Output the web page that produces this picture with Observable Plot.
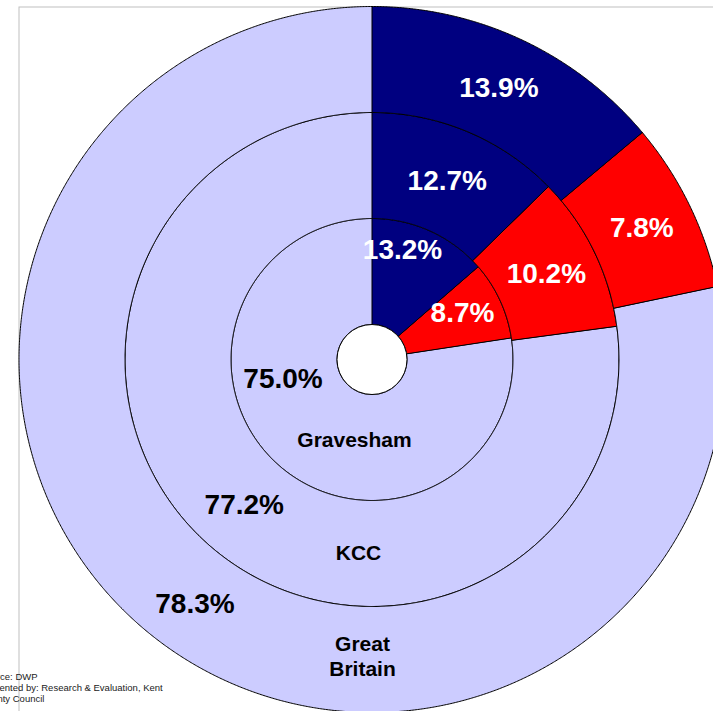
<!DOCTYPE html>
<html><head><meta charset="utf-8">
<script src="https://cdn.jsdelivr.net/npm/d3@7"></script>
<script src="https://cdn.jsdelivr.net/npm/@observablehq/plot@0.6"></script>
<style>body{margin:0;background:#fff;} #chart{width:713px;height:711px;overflow:hidden;}</style>
</head><body><div id="chart"></div>
<script>
// ---- data ----
const areas = ["Gravesham", "KCC", "Great Britain"];
const categories = ["Out-of-work benefits", "Other benefits", "Not claiming"];
const graveshamValues = [13.2, 8.7, 75.0];
const kccValues = [12.7, 10.2, 77.2];
const gbValues = [13.9, 7.8, 78.3];
const areaLabels = ["Gravesham", "KCC", "Great\nBritain"];
const sourceLines = ["Source: DWP", "Presented by: Research & Evaluation, Kent", "County Council"];

// ---- styles / layout ----
const sliceColors = ["#000080", "#ff0000", "#ccccff"];
const W = 713, H = 711, CX = 371.5, CY = 359;
const HOLE = 35, RING = 106;
// label nudges in pixels (right, down)
const pctNudge = [
  [[-6, -29], [10.6, -9.1], [-31.6, -47.2]],
  [[0, 0], [0, 0], [0, 0]],
  [[0, 0], [0, 0], [12, 12]]
];
const nameNudge = [[-17.5, -8], [-13.5, -1.5], [-9.5, -3.7]];

const valuesByArea = [graveshamValues, kccValues, gbValues];
const polys = [], pctLabels = [], nameLabels = [];
const step = Math.PI / 720;
valuesByArea.forEach((vals, i) => {
  const arcs = d3.pie().sort(null).startAngle(0).endAngle(2 * Math.PI)(vals);
  const r0 = HOLE + i * RING, r1 = HOLE + (i + 1) * RING, rm = (r0 + r1) / 2;
  arcs.forEach((a, j) => {
    const id = areas[i] + "|" + categories[j];
    const n = Math.max(2, Math.ceil((a.endAngle - a.startAngle) / step));
    for (let k = 0; k <= n; k++) {
      const t = a.startAngle + (a.endAngle - a.startAngle) * k / n;
      polys.push({id, cat: categories[j], x: r1 * Math.sin(t), y: r1 * Math.cos(t)});
    }
    for (let k = n; k >= 0; k--) {
      const t = a.startAngle + (a.endAngle - a.startAngle) * k / n;
      polys.push({id, cat: categories[j], x: r0 * Math.sin(t), y: r0 * Math.cos(t)});
    }
    const m = (a.startAngle + a.endAngle) / 2;
    const [nx, ny] = pctNudge[i][j];
    pctLabels.push({text: vals[j].toFixed(1) + "%", cat: j, x: rm * Math.sin(m) + nx, y: rm * Math.cos(m) - ny});
  });
  nameLabels.push({text: areaLabels[i], x: rm * Math.sin(Math.PI) + nameNudge[i][0], y: rm * Math.cos(Math.PI) - nameNudge[i][1]});
});

const font = "Arial, 'Liberation Sans', sans-serif";
const plot = Plot.plot({
  width: W, height: H, margin: 0,
  x: {domain: [-CX, W - CX], range: [0, W], axis: null},
  y: {domain: [CY - H, CY], range: [H, 0], axis: null},
  color: {domain: categories, range: sliceColors},
  style: {fontFamily: font, background: "white", overflow: "hidden"},
  marks: [
    Plot.frame({stroke: "#c0c0c0", strokeWidth: 1, insetLeft: 18.5, insetTop: 6.5, insetRight: -5, insetBottom: -5}),
    Plot.line(polys, {x: "x", y: "y", z: "id", fill: "cat", stroke: "black", strokeWidth: 1, curve: "linear-closed"}),
    Plot.dot([{x: 0, y: 0}], {x: "x", y: "y", r: HOLE, fill: "white", stroke: "black", strokeWidth: 1}),
    Plot.text(pctLabels.filter(d => d.cat < 2), {x: "x", y: "y", text: "text", fill: "white", fontSize: 28, fontWeight: "bold"}),
    Plot.text(pctLabels.filter(d => d.cat === 2), {x: "x", y: "y", text: "text", fill: "black", fontSize: 28, fontWeight: "bold"}),
    Plot.text(nameLabels, {x: "x", y: "y", text: "text", fill: "black", fontSize: 21, fontWeight: "bold", lineHeight: 1.167}),
    Plot.text([sourceLines.join("\n")], {frameAnchor: "bottom-left", textAnchor: "start", lineAnchor: "bottom", dx: -20.5, dy: -10, fontSize: 9.5, lineHeight: 1.158, fill: "#222"})
  ]
});
document.getElementById("chart").appendChild(plot);
</script>
</body></html>
